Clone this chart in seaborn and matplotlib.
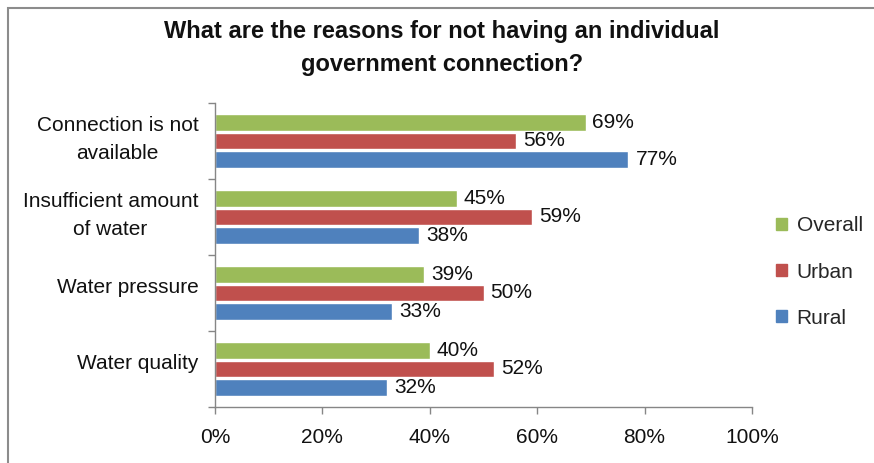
import matplotlib
matplotlib.use("Agg")
import matplotlib.pyplot as plt
import seaborn as sns
import pandas as pd
from matplotlib.patches import Rectangle

categories = ["Connection is not\navailable", "Insufficient amount\nof water",
              "Water pressure", "Water quality"]
series = ["Overall", "Urban", "Rural"]
overall = [69, 45, 39, 40]
urban = [56, 59, 50, 52]
rural = [77, 38, 33, 32]
x_ticks = [0, 20, 40, 60, 80, 100]
x_tick_labels = ["0%", "20%", "40%", "60%", "80%", "100%"]

colors = {"Overall": "#9BBB59", "Urban": "#C0504D", "Rural": "#4F81BD"}

df = pd.DataFrame({
    "reason": categories * 3,
    "group": ["Overall"] * 4 + ["Urban"] * 4 + ["Rural"] * 4,
    "value": overall + urban + rural,
})

sns.set_style("white")
plt.rcParams["font.family"] = ["Liberation Sans", "DejaVu Sans"]

FS = 15

fig = plt.figure(figsize=(8.74, 4.63), dpi=100)
ax = fig.add_axes([215 / 874, 1 - 407 / 463, (752 - 215) / 874, (407 - 103) / 463])

sns.barplot(data=df, y="reason", x="value", hue="group", order=categories,
            hue_order=series, palette=colors, orient="h", width=0.72, gap=0.08,
            saturation=1, ax=ax, legend=False)

for container in ax.containers:
    ax.bar_label(container, labels=[f"{v:.0f}%" for v in container.datavalues],
                 padding=5, fontsize=FS, color="#111111")

ax.set_xlim(0, 100)
ax.set_ylim(3.5, -0.5)
ax.set_xticks(x_ticks)
ax.set_xticklabels(x_tick_labels, fontsize=FS, color="#111111")
# category boundaries carry the tick marks; the names sit between them
ax.set_yticks([-0.5, 0.5, 1.5, 2.5, 3.5])
ax.set_yticklabels([])
ax.set_yticks([i - 0.1 for i in range(len(categories))], minor=True)
ax.set_yticklabels(categories, minor=True, fontsize=FS, multialignment="center",
                   linespacing=1.58, color="#111111")
ax.tick_params(axis="y", which="minor", length=0, pad=12)
ax.tick_params(axis="y", which="major", length=5, width=1, color="#868686", direction="out", left=True)
ax.tick_params(axis="x", length=5, width=1, color="#868686", direction="out", bottom=True, pad=10)
ax.set_xlabel("")
ax.set_ylabel("")
for side in ["top", "right"]:
    ax.spines[side].set_visible(False)
for side in ["left", "bottom"]:
    ax.spines[side].set_color("#868686")
    ax.spines[side].set_linewidth(1)

handles = [Rectangle((0, 0), 1, 1, color=colors[s]) for s in series]
fig.legend(handles, series, loc="center left", bbox_to_anchor=(759 / 874, 1 - 272 / 463),
           frameon=False, fontsize=FS, handlelength=0.55, handleheight=0.55,
           handletextpad=0.45, labelspacing=1.3, borderpad=0.3)

fig.text(442 / 874, 1 - 48 / 463,
         "What are the reasons for not having an individual\ngovernment connection?",
         ha="center", va="center", fontsize=17, fontweight="bold", linespacing=1.6,
         color="#111111")

fig.add_artist(Rectangle((7.5 / 874, -0.05), 1.2, 1 - 7.5 / 463 + 0.05,
                         transform=fig.transFigure, fill=False,
                         edgecolor="#8c8c8c", linewidth=1.5))

fig.savefig("out.png", dpi=100)
